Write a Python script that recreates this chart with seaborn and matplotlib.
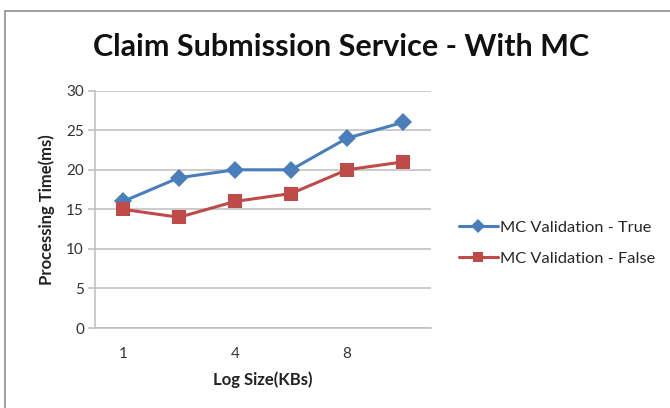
import matplotlib
matplotlib.use("Agg")
import matplotlib.pyplot as plt
from matplotlib.patches import Rectangle
import seaborn as sns
import pandas as pd

# Log sizes (KB) on the category axis; only every other label is printed
x_labels = ["1", "", "4", "", "8", ""]
mc_true = [16, 19, 20, 20, 24, 26]
mc_false = [15, 14, 16, 17, 20, 21]
series_names = ["MC Validation - True", "MC Validation - False"]

positions = list(range(len(x_labels)))
df = pd.DataFrame({
    "pos": positions * 2,
    "time": mc_true + mc_false,
    "series": [series_names[0]] * len(mc_true) + [series_names[1]] * len(mc_false),
})

sns.set_theme(style="white")
plt.rcParams["font.family"] = ["Lato", "DejaVu Sans"]

fig = plt.figure(figsize=(6.7, 4.08), dpi=100)
ax = fig.add_axes([95 / 670, 1 - 328 / 408, 336 / 670, (328 - 90.7) / 408])

palette = {series_names[0]: "#4A7EBB", series_names[1]: "#BE4B48"}
markers = {series_names[0]: "D", series_names[1]: "s"}

sns.lineplot(data=df, x="pos", y="time", hue="series", style="series",
             palette=palette, markers=markers, dashes=False,
             linewidth=2.2, markersize=9.5, markeredgewidth=0,
             ax=ax, legend=True)

ax.set_xlim(-0.5, len(x_labels) - 0.5)
ax.set_ylim(0, 30)
ax.set_yticks(range(0, 31, 5))
ax.set_xticks(positions)
ax.set_xticklabels(x_labels)
ax.yaxis.grid(True, color="#BDBDBD", linewidth=1.1)
ax.xaxis.grid(False)
ax.set_axisbelow(True)

for side in ("top", "right"):
    ax.spines[side].set_visible(False)
for side in ("left", "bottom"):
    ax.spines[side].set_color("#BDBDBD")
    ax.spines[side].set_linewidth(1.1)

ax.tick_params(axis="y", which="both", left=True, length=5, width=1.1,
               color="#BDBDBD", labelsize=11, labelcolor="#333333", pad=3)
ax.tick_params(axis="x", which="both", bottom=False, labelsize=11,
               labelcolor="#333333", pad=8)

ax.set_xlabel("Log Size(KBs)", fontsize=12, fontweight="bold",
              color="#222222", labelpad=7)
ax.set_ylabel("Processing Time(ms)", fontsize=12, fontweight="bold",
              color="#222222", labelpad=8)

leg = ax.legend(loc="center left", bbox_to_anchor=(452 / 670, 1 - 243 / 408),
                bbox_transform=fig.transFigure, frameon=False, fontsize=11.8,
                handlelength=2.4, handletextpad=0.1, labelspacing=1.0,
                borderaxespad=0)
for h in leg.legend_handles:
    h.set_markersize(7)
    h.set_linewidth(2.2)

fig.text(341 / 670, 1 - 47 / 408, "Claim Submission Service - With MC",
         ha="center", va="center", fontsize=22, fontweight="bold",
         color="#111111")

# Chart-area frame (left and top edges fall inside the image)
fig.patches.append(Rectangle((5 / 670, -0.1), 1.2, 1 - 11 / 408 + 0.1,
                             transform=fig.transFigure, fill=False,
                             edgecolor="#8C8C8C", linewidth=1.2))

fig.savefig("out.png", dpi=100)
